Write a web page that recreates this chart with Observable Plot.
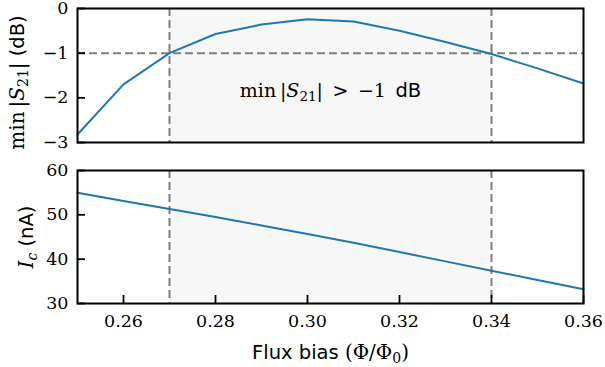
<!DOCTYPE html>
<html>
<head>
<meta charset="utf-8">
<script src="https://cdn.jsdelivr.net/npm/d3@7"></script>
<script src="https://cdn.jsdelivr.net/npm/@observablehq/plot@0.6"></script>
<style>
  html, body { margin: 0; padding: 0; background: #fff; }
  #chart { width: 605px; height: 367px; position: relative; }
  #chart svg { display: block; overflow: visible; background: transparent; }
  #chart g[aria-label$="tick label"] text { font-family: "DejaVu Serif", serif; font-size: 17.5px; }
</style>
</head>
<body>
<div id="chart"></div>
<script>
// ---- data ----
const flux = [0.25, 0.26, 0.27, 0.28, 0.29, 0.30, 0.31, 0.32, 0.33, 0.34, 0.35, 0.36];
const minS21 = [-2.82, -1.70, -1.00, -0.57, -0.36, -0.24, -0.29, -0.50, -0.75, -1.02, -1.34, -1.68];
const ic = [55.0, 53.1, 51.3, 49.5, 47.6, 45.7, 43.7, 41.6, 39.5, 37.4, 35.3, 33.2];
const bandEdges = [0.27, 0.34];
const thresholdDb = [-1];
const xDomain = [0.25, 0.36];
const xTicks = [0.26, 0.28, 0.30, 0.32, 0.34, 0.36];
const s21Domain = [-3, 0];
const s21Ticks = [0, -1, -2, -3];
const icDomain = [30, 60];
const icTicks = [30, 40, 50, 60];

const W = 605, ML = 77, MR = 22;
const frameW = W - ML - MR;
const SERIF = "DejaVu Serif, serif";
const SANS = "DejaVu Sans, sans-serif";
const FS = 17.5;      // tick label size
const MFS = 19;       // math text size
const SUB = 13.5;     // subscript size
const SFS = 19.5;     // sans text size
const BLUE = "#1f77b4";
const DASH = "#7f7f7f";
const SHADE = "#f7f7f7";
const TICK = 8;
const minus = (d) => String(d).replace("-", "\u2212");

function rich(textEl, parts) {
  const t = d3.select(textEl);
  t.text(null);
  for (const p of parts) {
    const ts = t.append("tspan").text(p.t);
    ts.attr("font-family", p.sans ? SANS : SERIF);
    ts.attr("font-size", p.size || (p.sans ? SFS : MFS));
    if (p.italic) ts.attr("font-style", "italic");
    if (p.dy) ts.attr("dy", p.dy);
  }
}

const baseStyle = {fontFamily: SERIF, fontSize: FS + "px", color: "black", overflow: "visible"};

// ---- top panel ----
const topH = 150;
const topPlot = Plot.plot({
  width: W, height: topH,
  marginLeft: ML, marginRight: MR, marginTop: 8, marginBottom: 8,
  style: baseStyle,
  x: {domain: xDomain},
  y: {domain: s21Domain},
  marks: [
    Plot.rect([bandEdges], {x1: d => d[0], x2: d => d[1], fill: SHADE}),
    Plot.ruleX(bandEdges, {stroke: DASH, strokeWidth: 2, strokeDasharray: "8,4"}),
    Plot.ruleY(thresholdDb, {stroke: DASH, strokeWidth: 2, strokeDasharray: "8,4"}),
    Plot.line(flux, {x: flux, y: minS21, stroke: BLUE, strokeWidth: 2}),
    Plot.ruleY(s21Ticks, {y: d => d, insetRight: frameW - TICK, stroke: "black", strokeWidth: 1.8}),
    Plot.axisY(s21Ticks, {tickSize: 0, tickPadding: 9, tickFormat: minus, fontFamily: SERIF, fontSize: FS, label: null}),
    Plot.axisX({ticks: [], label: null, tickSize: 0}),
    Plot.text(["min |S21| > \u22121 dB"], {frameAnchor: "middle", dy: 15, textAnchor: "middle", fontFamily: SERIF, fontSize: MFS, className: "annot"}),
    Plot.text(["min |S21| (dB)"], {frameAnchor: "left", dx: -60, dy: 7, rotate: -90, textAnchor: "middle", fontFamily: SERIF, fontSize: MFS, className: "ylab1"}),
    Plot.frame({stroke: "black", strokeWidth: 2})
  ]
});

// ---- bottom panel ----
const botH = 217;
const botPlot = Plot.plot({
  width: W, height: botH,
  marginLeft: ML, marginRight: MR, marginTop: 20, marginBottom: 64,
  style: baseStyle,
  x: {domain: xDomain},
  y: {domain: icDomain},
  marks: [
    Plot.rect([bandEdges], {x1: d => d[0], x2: d => d[1], fill: SHADE}),
    Plot.ruleX(bandEdges, {stroke: DASH, strokeWidth: 2, strokeDasharray: "8,4"}),
    Plot.line(flux, {x: flux, y: ic, stroke: BLUE, strokeWidth: 2}),
    Plot.ruleY(icTicks, {y: d => d, insetRight: frameW - TICK, stroke: "black", strokeWidth: 1.8}),
    Plot.ruleX(xTicks, {x: d => d, insetTop: (botH - 20 - 64) - TICK, stroke: "black", strokeWidth: 1.8}),
    Plot.axisY(icTicks, {tickSize: 0, tickPadding: 9, fontFamily: SERIF, fontSize: FS, label: null}),
    Plot.axisX(xTicks, {tickSize: 0, tickPadding: 11, tickFormat: d3.format(".2f"), fontFamily: SERIF, fontSize: FS, label: null}),
    Plot.text(["Ic (nA)"], {frameAnchor: "left", dx: -51, rotate: -90, textAnchor: "middle", fontFamily: SERIF, fontSize: MFS, className: "ylab2"}),
    Plot.text(["Flux bias (\u03A6/\u03A60)"], {frameAnchor: "bottom", dy: 49, textAnchor: "middle", fontFamily: SANS, fontSize: SFS, lineAnchor: "middle", className: "xlab"}),
    Plot.frame({stroke: "black", strokeWidth: 2})
  ]
});

document.getElementById("chart").append(topPlot, botPlot);

rich(topPlot.querySelector(".annot text"), [
  {t: "min\u2009|"}, {t: "S", italic: true}, {t: "21", size: SUB, dy: "0.3em"},
  {t: "|\u2002>\u2002\u22121\u2002", dy: "-0.21em"}, {t: "dB", sans: true}
]);
rich(topPlot.querySelector(".ylab1 text"), [
  {t: "min\u2009|", size: 20}, {t: "S", italic: true, size: 20}, {t: "21", size: 14, dy: "0.3em"},
  {t: "|", size: 20, dy: "-0.21em"}, {t: " (dB)", sans: true}
]);
rich(botPlot.querySelector(".ylab2 text"), [
  {t: "I", italic: true, size: 20}, {t: "c", italic: true, size: 14, dy: "0.3em"},
  {t: " (nA)", sans: true, dy: "-0.21em"}
]);
rich(botPlot.querySelector(".xlab text"), [
  {t: "Flux bias ", sans: true}, {t: "(\u03A6/\u03A6", size: 20}, {t: "0", size: 14, dy: "0.3em"},
  {t: ")", size: 20, dy: "-0.21em"}
]);
</script>
</body>
</html>
